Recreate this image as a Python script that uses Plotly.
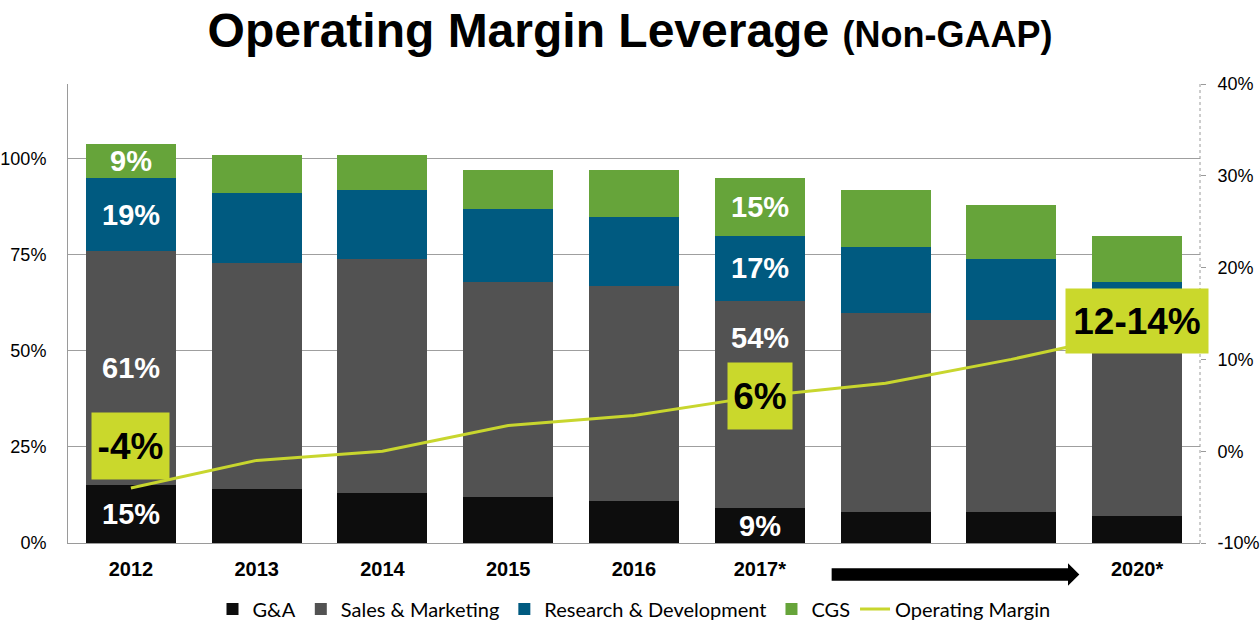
import plotly.graph_objects as go

categories = ["2012", "2013", "2014", "2015", "2016", "2017*", "2018*", "2019*", "2020*"]
tick_labels = ["2012", "2013", "2014", "2015", "2016", "2017*", "", "", "2020*"]
ga = [15, 14, 13, 12, 11, 9, 8, 8, 7]
sm = [61, 59, 61, 56, 56, 54, 52, 50, 47]
rd = [19, 18, 18, 19, 18, 17, 17, 16, 14]
cgs = [9, 10, 9, 10, 12, 15, 15, 14, 12]
op_margin = [-4, -1, 0, 2.8, 3.9, 6, 7.4, 10, 13]
left_ticks = [0, 25, 50, 75, 100]
right_ticks = [-10, 0, 10, 20, 30, 40]

C_GA = "#0d0d0d"
C_SM = "#525252"
C_RD = "#005a80"
C_CGS = "#66a43a"
C_OM = "#c8d62e"
C_BOX = "#cad82c"
FONT = "Liberation Sans, Arial, sans-serif"

fig = go.Figure()
for name, vals, col in [("G&A", ga, C_GA), ("Sales & Marketing", sm, C_SM),
                        ("Research & Development", rd, C_RD), ("CGS", cgs, C_CGS)]:
    fig.add_trace(go.Bar(x=categories, y=vals, name=name, marker=dict(color=col, line=dict(width=0)),
                         hoverinfo="skip"))
fig.add_trace(go.Scatter(x=categories, y=op_margin, name="Operating Margin", yaxis="y2",
                         mode="lines", line=dict(color=C_OM, width=3)))

annotations = []
# white labels in bars (x given as category index)
for i in [0, 5]:
    base = 0
    segs = [ga[i], sm[i], rd[i], cgs[i]]
    for k, v in enumerate(segs):
        mid = base + v / 2
        if i == 5 and k == 1:
            mid = base + v - 9.5
        annotations.append(dict(x=i, y=mid, xref="x", yref="y", text=f"<b>{v}%</b>",
                                showarrow=False, font=dict(family=FONT, size=29, color="white"),
                                yanchor="middle"))
        base += v

box_font = dict(family=FONT, size=37, color="black")
annotations.append(dict(x=0, y=op_margin[0] + 4.6, xref="x", yref="y2", text="<b>-4%</b>",
                        showarrow=False, font=box_font, bgcolor=C_BOX, width=77, height=66, borderpad=0))
annotations.append(dict(x=5, y=op_margin[5], xref="x", yref="y2", text="<b>6%</b>",
                        showarrow=False, font=box_font, bgcolor=C_BOX, width=64, height=66, borderpad=0))
annotations.append(dict(x=8, y=14.2, xref="x", yref="y2", text="<b>12-14%</b>",
                        showarrow=False, font=box_font, bgcolor=C_BOX, width=142, height=64, borderpad=0))

# arrow under future years
x0, xb, xt = 0.6746, 0.8834, 0.8934
yc, sh, hh = -0.0686, 0.0135, 0.0244
arrow_path = (f"M{x0},{yc+sh} L{xb},{yc+sh} L{xb},{yc+hh} L{xt},{yc} "
              f"L{xb},{yc-hh} L{xb},{yc-sh} L{x0},{yc-sh} Z")
shapes = [
    dict(type="path", path=arrow_path, xref="paper", yref="paper", fillcolor="black", line=dict(width=0)),
    dict(type="line", x0=1, x1=1, y0=0, y1=1, xref="paper", yref="paper",
         line=dict(color="#9a9a9a", width=1, dash="dot")),
]

fig.update_layout(
    width=1260, height=625,
    margin=dict(l=68, r=60, t=84, b=82, autoexpand=False),
    paper_bgcolor="white", plot_bgcolor="white",
    barmode="stack", bargap=0.284,
    title=dict(text="<b>Operating Margin Leverage <span style='font-size:36px'>(Non-GAAP)</span></b>",
               x=0.5, xanchor="center", y=0.952, yanchor="middle", yref="container",
               font=dict(family=FONT, size=48, color="black")),
    xaxis=dict(type="category", categoryorder="array", categoryarray=categories,
               range=[-0.5, len(categories) - 0.5], tickmode="array",
               tickvals=categories, ticktext=[f"<b>{t}</b>" if t else "" for t in tick_labels],
               tickfont=dict(family=FONT, size=20, color="black"), showline=True, tickangle=0,
               linecolor="#9a9a9a", linewidth=1, ticks="", ticklabelstandoff=8, showgrid=False,
               automargin=False),
    yaxis=dict(range=[0, 119.5], tickmode="array", tickvals=left_ticks,
               ticktext=[f"{v}%" for v in left_ticks],
               tickfont=dict(family=FONT, size=18, color="black"), showgrid=True,
               gridcolor="#9f9f9f", gridwidth=1, showline=True, linecolor="#9a9a9a",
               linewidth=1, ticks="", ticklabelstandoff=17, zeroline=False, automargin=False),
    yaxis2=dict(range=[-10, 40], tickmode="array", tickvals=right_ticks,
                ticktext=[f"{v}%" for v in right_ticks],
                overlaying="y", side="right", showgrid=False, zeroline=False,
                tickfont=dict(family=FONT, size=18, color="black"), ticks="outside",
                ticklen=5, tickcolor="#9a9a9a", showline=False, ticklabelstandoff=8,
                automargin=False),
    legend=dict(orientation="h", x=0.5, xanchor="center", y=-0.1438, yanchor="middle",
                font=dict(family="Lato, sans-serif", size=20, color="black"),
                traceorder="normal", itemclick=False),
    annotations=annotations, shapes=shapes, showlegend=True,
)

fig.write_html("out.html", config={"displayModeBar": False},
               post_script="document.body.style.margin='0';")
